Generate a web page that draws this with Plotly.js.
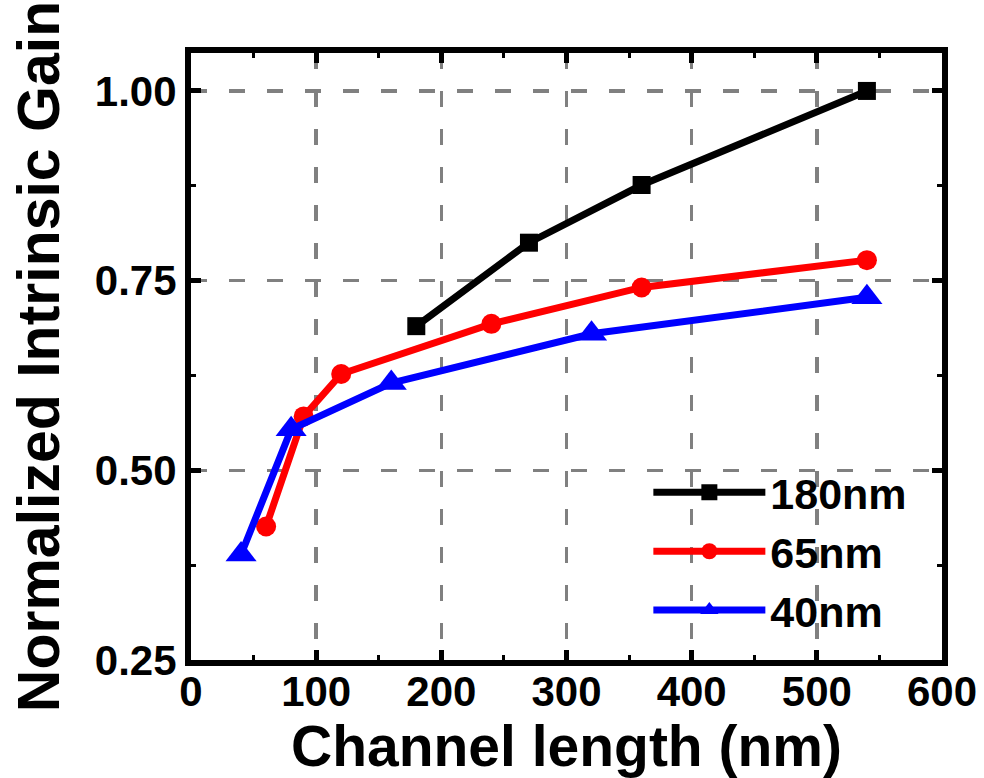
<!DOCTYPE html>
<html>
<head>
<meta charset="utf-8">
<script src="https://cdn.plot.ly/plotly-3.0.1.min.js"></script>
<style>
  html, body { margin: 0; padding: 0; background: #fff; }
  #chart { width: 984px; height: 778px; }
</style>
</head>
<body>
<div id="chart"></div>
<script>
// Data
const x180 = [180, 270, 360, 540];
const y180 = [0.690, 0.800, 0.876, 1.000];

const x65 = [60, 90, 120, 240, 360, 540];
const y65 = [0.426, 0.571, 0.627, 0.693, 0.741, 0.777];

const x40 = [40, 80, 160, 320, 540];
const y40 = [0.389, 0.554, 0.615, 0.680, 0.728];

const seriesNames = ['180nm', '65nm', '40nm'];
const xTickVals = [0, 100, 200, 300, 400, 500, 600];
const yTickVals = [0.25, 0.50, 0.75, 1.00];

const FONT = 'Liberation Sans, Arial, sans-serif';

const traces = [
  {x: x180, y: y180, name: seriesNames[0], mode: 'lines+markers',
   line: {color: '#000000', width: 7},
   marker: {symbol: 'square', size: 18, color: '#000000'}},
  {x: x65, y: y65, name: seriesNames[1], mode: 'lines+markers',
   line: {color: '#ff0000', width: 7},
   marker: {symbol: 'circle', size: 20, color: '#ff0000'}},
  {x: x40, y: y40, name: seriesNames[2], mode: 'lines+markers',
   line: {color: '#0000ff', width: 7},
   marker: {symbol: 'triangle-up', size: 27, color: '#0000ff'}}
];

const axisCommon = {
  showline: true, linecolor: '#000', linewidth: 6, mirror: 'ticks',
  ticks: 'inside', ticklen: 10, tickwidth: 5, tickcolor: '#000',
  showgrid: true, gridcolor: '#808080', gridwidth: 3.5, griddash: '16px,22px',
  zeroline: false
};

const layout = {
  width: 984, height: 778,
  margin: {l: 191, r: 42, t: 53, b: 118},
  paper_bgcolor: '#fff', plot_bgcolor: '#fff',
  font: {family: FONT, color: '#000', weight: 'bold'},
  xaxis: Object.assign({}, axisCommon, {
    range: [0, 600], tickvals: xTickVals, ticktext: xTickVals.map(String),
    tickfont: {family: FONT, size: 42, weight: 'bold', color: '#000'},
    ticklabelstandoff: -10,
    minor: {tickvals: [50,150,250,350,450,550], ticks: 'inside', ticklen: 5, tickwidth: 3, tickcolor: '#000', showgrid: false},
    title: {text: 'Channel length (nm)', font: {family: FONT, size: 57, weight: 'bold', color: '#000'}, standoff: 0}
  }),
  yaxis: Object.assign({}, axisCommon, {
    range: [0.25, 1.05], tickvals: yTickVals, ticktext: yTickVals.map(v => v.toFixed(2)),
    tickfont: {family: FONT, size: 42, weight: 'bold', color: '#000'},
    minor: {tickvals: [0.375, 0.625, 0.875], ticks: 'inside', ticklen: 5, tickwidth: 3, tickcolor: '#000', showgrid: false},
    title: {text: 'Normalized Intrinsic Gain', font: {family: FONT, size: 59, weight: 'bold', color: '#000'}, standoff: 18}
  }),
  showlegend: true,
  legend: {
    x: 0.609, y: 0.333, xanchor: 'left', yanchor: 'top',
    bgcolor: 'rgba(0,0,0,0)', borderwidth: 0,
    font: {family: FONT, size: 43, weight: 'bold', color: '#000'},
    itemwidth: 112, tracegroupgap: 0
  }
};

Plotly.newPlot('chart', traces, layout, {displayModeBar: false, staticPlot: true});
</script>
</body>
</html>
